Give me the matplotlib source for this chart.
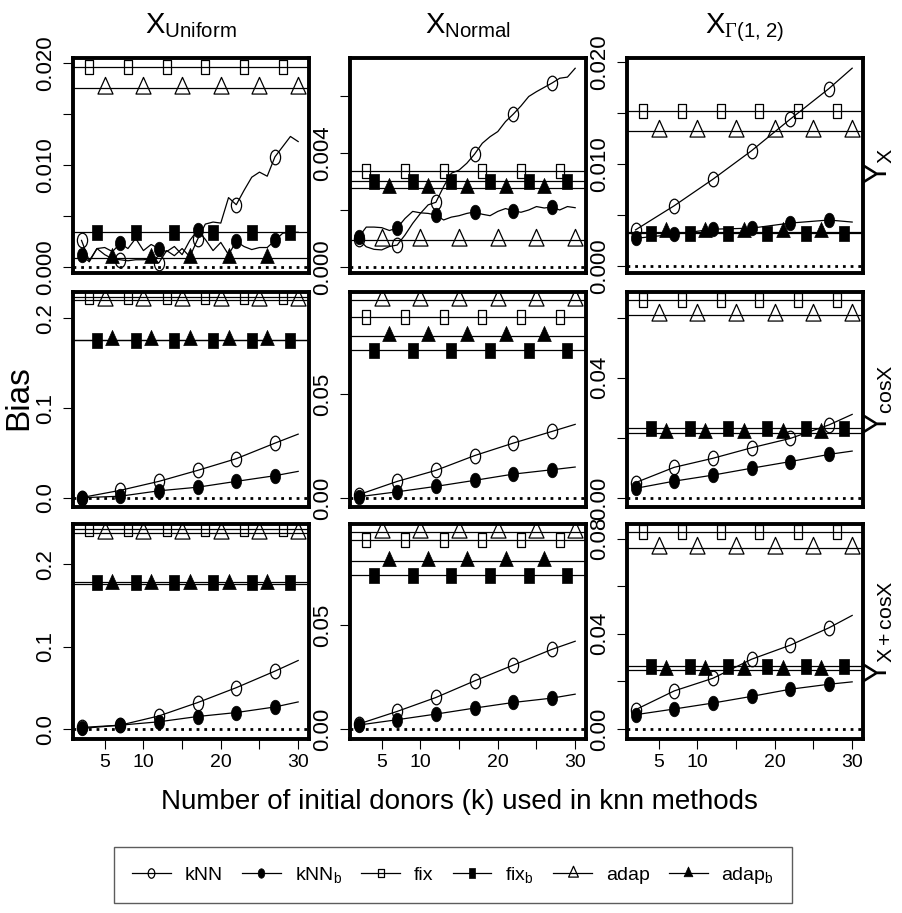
import matplotlib
matplotlib.use('Agg')
import matplotlib.pyplot as plt
from matplotlib.path import Path
from matplotlib.transforms import Affine2D
from matplotlib.lines import Line2D

plt.rcParams['font.family'] = ['Liberation Sans', 'DejaVu Sans']
plt.rcParams['mathtext.fontset'] = 'custom'
plt.rcParams['mathtext.rm'] = 'Liberation Serif'
plt.rcParams['mathtext.it'] = 'Liberation Serif:italic'

# --- data -------------------------------------------------------------
col_titles = [r'$\mathregular{X_{Uniform}}$', r'$\mathregular{X_{Normal}}$',
              r'$\mathregular{X}_{\Gamma\mathregular{(1,\,2)}}$']
row_titles = [r'$\mathregular{Y_X}$', r'$\mathregular{Y_{cosX}}$', r'$\mathregular{Y_{X+cosX}}$']

k_full = list(range(2, 31))
k_coarse = [2, 7, 12, 17, 22, 27, 30]
k_mark_knn = [2, 7, 12, 17, 22, 27]
k_mark_fix = [3, 8, 13, 18, 23, 28]
k_mark_fixb = [4, 9, 14, 19, 24, 29]
k_mark_adap = [5, 10, 15, 20, 25, 30]
k_mark_adapb = [6, 11, 16, 21, 26]

# kNN / kNN_b curves (row Y_X)
knn_unif_x = [0.0026, 0.0006, 0.0018, 0.0012, 0.0008, 0.0007, 0.0006, 0.0007, 0.0007, 0.0008,
              0.0004, 0.0016, 0.0011, 0.0018, 0.0010, 0.0027, 0.0042, 0.0044, 0.0043, 0.0068,
              0.0061, 0.0075, 0.0088, 0.0093, 0.0089, 0.0108, 0.0118, 0.0128, 0.0123]
knnb_unif_x = [0.0012, 0.0005, 0.0018, 0.0019, 0.0015, 0.0023, 0.0018, 0.0028, 0.0016, 0.0022,
               0.0018, 0.0015, 0.0020, 0.0012, 0.0026, 0.0036, 0.0027, 0.0016, 0.0024, 0.0012,
               0.0025, 0.0020, 0.0017, 0.0019, 0.0019, 0.0026, 0.0033, 0.0034, 0.0034]
knn_norm_x = [0.00097, 0.00071, 0.00062, 0.00060, 0.00072, 0.00077, 0.00112, 0.00153, 0.00188, 0.00218,
              0.00227, 0.00282, 0.00329, 0.00340, 0.00364, 0.00396, 0.00434, 0.00457, 0.00475, 0.00510,
              0.00536, 0.00565, 0.00598, 0.00615, 0.00630, 0.00645, 0.00662, 0.00666, 0.00697]
knnb_norm_x = [0.00104, 0.00140, 0.00140, 0.00138, 0.00128, 0.00137, 0.00170, 0.00195, 0.00190, 0.00188,
               0.00182, 0.00165, 0.00175, 0.00180, 0.00188, 0.00193, 0.00185, 0.00180, 0.00195, 0.00205,
               0.00197, 0.00192, 0.00200, 0.00212, 0.00207, 0.00210, 0.00200, 0.00212, 0.00208]
knn_gam_x = [0.00353, 0.0059, 0.0085, 0.0113, 0.0144, 0.0174, 0.0194]
knnb_gam_x = [0.0027, 0.0031, 0.0036, 0.0037, 0.0042, 0.0045, 0.0043]

# row Y_cosX
knn_unif_cos = [0.0005, 0.0085, 0.0185, 0.0307, 0.0437, 0.0610, 0.0710]
knnb_unif_cos = [0.0003, 0.0020, 0.0080, 0.0120, 0.0185, 0.0248, 0.0296]
knn_norm_cos = [0.0016, 0.0080, 0.0133, 0.0204, 0.0264, 0.0320, 0.0354]
knnb_norm_cos = [0.0006, 0.0030, 0.0056, 0.0085, 0.0115, 0.0136, 0.0149]
knn_gam_cos = [0.0051, 0.0102, 0.0132, 0.0167, 0.0198, 0.0243, 0.0278]
knnb_gam_cos = [0.0032, 0.0056, 0.0076, 0.0099, 0.0121, 0.0145, 0.0156]

# row Y_X+cosX
knn_unif_xcos = [0.0020, 0.0048, 0.0160, 0.0322, 0.0503, 0.0704, 0.0833]
knnb_unif_xcos = [0.0008, 0.0048, 0.0089, 0.0153, 0.0201, 0.0269, 0.0330]
knn_norm_xcos = [0.0024, 0.0085, 0.0152, 0.0232, 0.0308, 0.0384, 0.0423]
knnb_norm_xcos = [0.0019, 0.0045, 0.0072, 0.0101, 0.0128, 0.0149, 0.0168]
knn_gam_xcos = [0.0081, 0.0160, 0.0213, 0.0293, 0.0352, 0.0425, 0.0477]
knnb_gam_xcos = [0.0060, 0.0084, 0.0109, 0.0137, 0.0167, 0.0188, 0.0198]

# constant methods (rows x cols)
fix_vals = [[0.0196, 0.00337, 0.0152], [0.2233, 0.0872, 0.0658], [0.2424, 0.0911, 0.0826]]
adap_vals = [[0.0176, 0.00095, 0.0132], [0.2200, 0.0952, 0.0610], [0.2383, 0.0948, 0.0760]]
fixb_vals = [[0.0034, 0.00302, 0.0032], [0.1755, 0.0712, 0.0232], [0.1790, 0.0743, 0.0265]]
adapb_vals = [[0.0009, 0.00278, 0.0033], [0.1755, 0.0780, 0.0215], [0.1763, 0.0812, 0.0247]]

knn_all = [[knn_unif_x, knn_norm_x, knn_gam_x],
           [knn_unif_cos, knn_norm_cos, knn_gam_cos],
           [knn_unif_xcos, knn_norm_xcos, knn_gam_xcos]]
knnb_all = [[knnb_unif_x, knnb_norm_x, knnb_gam_x],
            [knnb_unif_cos, knnb_norm_cos, knnb_gam_cos],
            [knnb_unif_xcos, knnb_norm_xcos, knnb_gam_xcos]]

ylims = [[(-0.0006, 0.0205), (-0.00021, 0.00733), (-0.0007, 0.0204)],
         [(-0.010, 0.229), (-0.0043, 0.099), (-0.003, 0.0685)],
         [(-0.012, 0.249), (-0.0048, 0.0988), (-0.0042, 0.0861)]]
yticks = [[[0, 0.005, 0.010, 0.015, 0.020], [0, 0.002, 0.004, 0.006], [0, 0.005, 0.010, 0.015, 0.020]],
          [[0, 0.1, 0.2], [0, 0.05], [0, 0.02, 0.04, 0.06]],
          [[0, 0.1, 0.2], [0, 0.05], [0, 0.02, 0.04, 0.06, 0.08]]]
ytick_labels = [[['0.000', '', '0.010', '', '0.020'], ['0.000', '', '0.004', ''], ['0.000', '', '0.010', '', '0.020']],
                [['0.0', '0.1', '0.2'], ['0.00', '0.05'], ['0.00', '', '0.04', '']],
                [['0.0', '0.1', '0.2'], ['0.00', '0.05'], ['0.00', '', '0.04', '', '0.08']]]
xticks = [5, 10, 15, 20, 25, 30]
xtick_labels = ['5', '10', '', '20', '', '30']

# --- markers (tall shapes, like the squeezed original) -----------------
SQ = 0.7
m_circle = Affine2D().scale(SQ, 1).transform_path(Path.unit_circle())
m_square = Affine2D().translate(-0.5, -0.5).scale(0.66, 1).transform_path(Path.unit_rectangle())
m_tri = Path([(0, 1), (-0.866 * 0.78, -0.5), (0.866 * 0.78, -0.5), (0, 1)], closed=True)

styles = {
    'knn': dict(marker=m_circle, ms=10.5, mfc='none', mec='k', mew=0.9),
    'knnb': dict(marker=m_circle, ms=10.5, mfc='k', mec='k', mew=0.5),
    'fix': dict(marker=m_square, ms=9.4, mfc='none', mec='k', mew=0.9),
    'fixb': dict(marker=m_square, ms=10.8, mfc='k', mec='k', mew=0.5),
    'adap': dict(marker=m_tri, ms=16, mfc='none', mec='k', mew=0.9),
    'adapb': dict(marker=m_tri, ms=14.5, mfc='k', mec='k', mew=0.5),
}

W, H = 903, 913
fig = plt.figure(figsize=(W / 100, H / 100), dpi=100)

col_left = [73, 350, 627]
row_top = [58, 292, 524]
pw, ph = 236, 215

for r in range(3):
    for c in range(3):
        ax = fig.add_axes([col_left[c] / W, 1 - (row_top[r] + ph) / H, pw / W, ph / H])
        ks = k_full if len(knn_all[r][c]) == len(k_full) else k_coarse
        idx = [i for i, k in enumerate(ks) if k in k_mark_knn]

        ax.axhline(0, color='k', lw=2, linestyle=(0, (1.0, 1.77)))
        for vals, km, key in [(fix_vals, k_mark_fix, 'fix'), (adap_vals, k_mark_adap, 'adap'),
                              (fixb_vals, k_mark_fixb, 'fixb'), (adapb_vals, k_mark_adapb, 'adapb')]:
            v = vals[r][c]
            ax.axhline(v, color='k', lw=0.9)
            ax.plot(km, [v] * len(km), ls='none', **styles[key])

        ax.plot(ks, knn_all[r][c], color='k', lw=0.9, markevery=idx, **styles['knn'])
        ax.plot(ks, knnb_all[r][c], color='k', lw=0.9, markevery=idx, **styles['knnb'])

        ax.set_xlim(0.9, 31.4)
        ax.set_ylim(*ylims[r][c])
        ax.set_yticks(yticks[r][c])
        ax.set_yticklabels(ytick_labels[r][c], rotation=90, va='center', fontsize=16)
        ax.tick_params(axis='y', direction='out', length=7, width=0.8, pad=5)
        if r == 2:
            ax.set_xticks(xticks)
            ax.set_xticklabels(xtick_labels, fontsize=14)
            ax.tick_params(axis='x', direction='out', length=7, width=0.8, pad=4)
        else:
            ax.set_xticks([])
        for sp in ax.spines.values():
            sp.set_linewidth(2.8)

for c in range(3):
    fig.text((col_left[c] + pw / 2) / W, 1 - 33 / H, col_titles[c], ha='center', va='baseline', fontsize=21)
for r in range(3):
    fig.text(879 / W, 1 - (row_top[r] + ph / 2) / H, row_titles[r], rotation=90, ha='center', va='center',
             fontsize=22)

fig.text(19 / W, 1 - 398 / H, 'Bias', rotation=90, ha='center', va='center', fontsize=24)
fig.text(459 / W, 1 - 802 / H, 'Number of initial donors (k) used in knn methods',
         ha='center', va='center', fontsize=20)

# legend
leg_labels = ['kNN', r'$\mathregular{kNN_b}$', 'fix', r'$\mathregular{fix_b}$', 'adap', r'$\mathregular{adap_b}$']
handles = []
for key in ['knn', 'knnb', 'fix', 'fixb', 'adap', 'adapb']:
    st = dict(styles[key])
    st['ms'] = st['ms'] * 0.65
    handles.append(Line2D([], [], color='k', lw=0.9, **st))
leg = fig.legend(handles, leg_labels, loc='center', bbox_to_anchor=(453 / W, 1 - 875 / H), ncol=6,
                 fontsize=14, handlelength=2.0, handletextpad=0.7, columnspacing=1.0,
                 borderpad=0.9, fancybox=False, edgecolor='#333333')
leg.get_frame().set_linewidth(1.0)

fig.savefig('out.png', dpi=100)
